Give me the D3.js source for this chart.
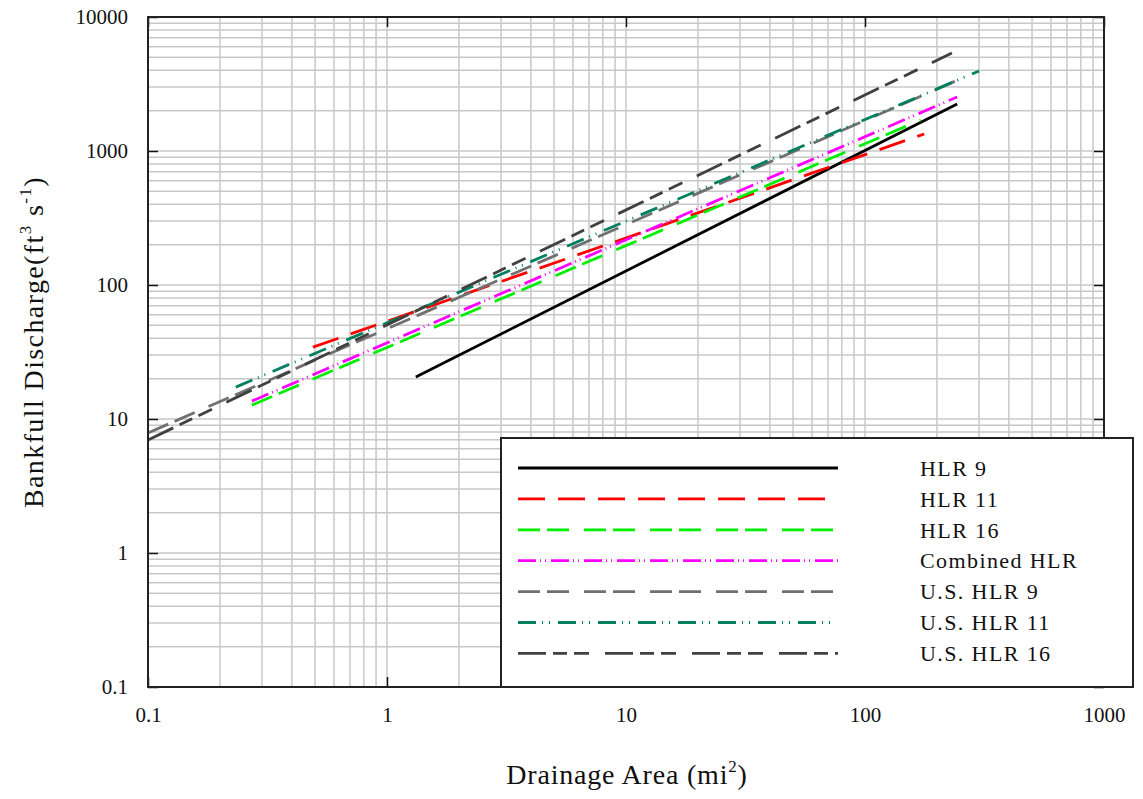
<!DOCTYPE html>
<html><head><meta charset="utf-8">
<script src="https://d3js.org/d3.v7.min.js"></script>
<style>body{margin:0;background:#fff}svg{display:block}text{font-family:"Liberation Serif","DejaVu Serif",serif;fill:#111}</style>
</head><body><svg id="c" width="1143" height="799"></svg>
<script>
const seriesNames = ["HLR 9","HLR 11","HLR 16","Combined HLR","U.S. HLR 9","U.S. HLR 11","U.S. HLR 16"];
const seriesColors = ["#000000","#ff0000","#00ee00","#ff00ff","#707070","#008060","#404040"];
const seriesDash = ["", "27,13", "22,7,22,15", "18,4,1,4,1,5", "22,7,22,15", "18,6,1,6,1,8", "28,7,14,7,15,16"];
const seriesPoints = [
  [[1.32,20.6],[243,2244]],
  [[0.49,34.4],[177,1340]],
  [[0.272,12.7],[171,1703]],
  [[0.272,13.6],[243,2530]],
  [[0.1,7.87],[250,3443]],
  [[0.233,17.3],[300,3954]],
  [[0.1,6.97],[231,5380]]
];
const xTicks = [0.1,1,10,100,1000];
const yTicks = [0.1,1,10,100,1000,10000];
const xTickLabels = ["0.1","1","10","100","1000"];
const yTickLabels = ["0.1","1","10","100","1000","10000"];

const svg = d3.select("#c");
const L=148,R=1104,T=17,B=687;
const x = d3.scaleLog().domain([0.1,1000]).range([L,R]);
const y = d3.scaleLog().domain([0.1,10000]).range([B,T]);

const minorX=[],minorY=[];
for(let e=-1;e<3;e++)for(let m=1;m<10;m++)minorX.push(m*Math.pow(10,e));
for(let e=-1;e<4;e++)for(let m=1;m<10;m++)minorY.push(m*Math.pow(10,e));
const g=svg.append("g");
g.selectAll("line.gx").data(minorX.filter(v=>v>0.1)).enter().append("line")
 .attr("x1",d=>x(d)).attr("x2",d=>x(d)).attr("y1",T).attr("y2",B)
 .attr("stroke","#c8c8c8").attr("stroke-width",1.5);
g.selectAll("line.gy").data(minorY.filter(v=>v>0.1)).enter().append("line")
 .attr("y1",d=>y(d)).attr("y2",d=>y(d)).attr("x1",L).attr("x2",R)
 .attr("stroke","#c8c8c8").attr("stroke-width",1.5);

const axB=svg.append("g").attr("transform",`translate(0,${B})`).call(d3.axisBottom(x).tickValues(xTicks).tickFormat((d,i)=>xTickLabels[i]).tickSizeInner(-10).tickSizeOuter(0).tickPadding(20));
const axL=svg.append("g").attr("transform",`translate(${L},0)`).call(d3.axisLeft(y).tickValues(yTicks).tickFormat((d,i)=>yTickLabels[i]).tickSizeInner(-10).tickSizeOuter(0).tickPadding(20));
const axT=svg.append("g").attr("transform",`translate(0,${T})`).call(d3.axisTop(x).tickValues(xTicks).tickFormat("").tickSizeInner(-10).tickSizeOuter(0));
const axR=svg.append("g").attr("transform",`translate(${R},0)`).call(d3.axisRight(y).tickValues(yTicks).tickFormat("").tickSizeInner(-10).tickSizeOuter(0));
[axB,axL,axT,axR].forEach(a=>{a.select(".domain").remove();a.selectAll("line").attr("stroke","#111").attr("stroke-width",1.5);a.selectAll("text").attr("font-size",21).attr("font-family","Liberation Serif, serif").attr("fill","#111");});
axB.selectAll("text").attr("dy","0.71em");

const line=d3.line().x(d=>x(d[0])).y(d=>y(d[1]));
svg.append("defs").append("clipPath").attr("id","clip").append("rect").attr("x",L).attr("y",T).attr("width",R-L).attr("height",B-T);
const sg=svg.append("g").attr("clip-path","url(#clip)");
seriesPoints.forEach((pts,i)=>{
  sg.append("path").attr("d",line(pts)).attr("fill","none").attr("stroke",seriesColors[i])
   .attr("stroke-width",2.8).attr("stroke-dasharray",seriesDash[i]||null);
});

svg.append("rect").attr("x",L).attr("y",T).attr("width",R-L).attr("height",B-T).attr("fill","none").attr("stroke","#222").attr("stroke-width",2);

const lg=svg.append("g");
lg.append("rect").attr("x",501).attr("y",438).attr("width",632).attr("height",249).attr("fill","#fff").attr("stroke","#222").attr("stroke-width",2);
seriesNames.forEach((n,i)=>{
  const yy=468+i*30.9;
  lg.append("line").attr("x1",518).attr("x2",838).attr("y1",yy).attr("y2",yy)
   .attr("stroke",seriesColors[i]).attr("stroke-width",2.8).attr("stroke-dasharray",seriesDash[i]||null);
  lg.append("text").attr("x",920).attr("y",yy).attr("dy","0.35em").attr("font-size",22).attr("letter-spacing",1.4).text(n);
});

const xt=svg.append("text").attr("x",627).attr("y",784).attr("text-anchor","middle").attr("font-size",28).attr("letter-spacing",0.8);
xt.append("tspan").text("Drainage Area (mi");
xt.append("tspan").attr("font-size",17).attr("dy",-12).text("2");
xt.append("tspan").attr("dy",12).text(")");
const yt=svg.append("text").attr("transform","translate(43,342) rotate(-90)").attr("text-anchor","middle").attr("font-size",28).attr("letter-spacing",1.4);
yt.append("tspan").text("Bankfull Discharge(ft");
yt.append("tspan").attr("font-size",17).attr("dy",-12).text("3");
yt.append("tspan").attr("dy",12).text(" s");
yt.append("tspan").attr("font-size",17).attr("dy",-12).text("-1");
yt.append("tspan").attr("dy",12).text(")");
</script></body></html>
